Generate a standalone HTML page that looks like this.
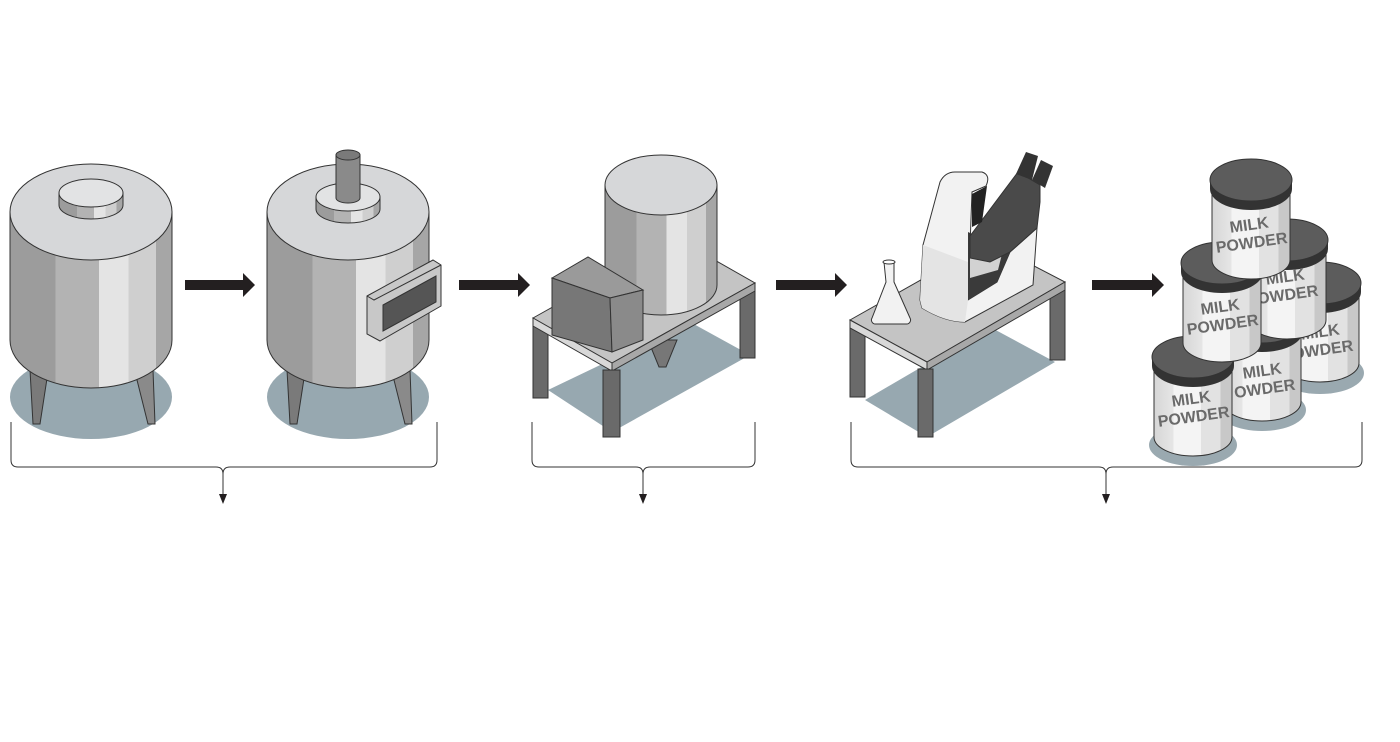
<!DOCTYPE html>
<html><head><meta charset="utf-8"><style>html,body{margin:0;padding:0;background:#fff}svg{display:block}</style></head>
<body>
<svg width="1400" height="742" viewBox="0 0 1400 742" xmlns="http://www.w3.org/2000/svg" font-family="Liberation Sans, sans-serif">
<defs>
<linearGradient id="tank" x1="0" x2="1" y1="0" y2="0">
<stop offset="0" stop-color="#9c9c9c"/><stop offset="0.28" stop-color="#9c9c9c"/>
<stop offset="0.28" stop-color="#b3b3b3"/><stop offset="0.55" stop-color="#b3b3b3"/>
<stop offset="0.55" stop-color="#e4e4e4"/><stop offset="0.73" stop-color="#e4e4e4"/>
<stop offset="0.73" stop-color="#cfcfcf"/><stop offset="0.9" stop-color="#cfcfcf"/>
<stop offset="0.9" stop-color="#a6a6a6"/><stop offset="1" stop-color="#a6a6a6"/>
</linearGradient>
<linearGradient id="can" x1="0" x2="1" y1="0" y2="0">
<stop offset="0" stop-color="#d6d6d6"/><stop offset="0.25" stop-color="#e6e6e6"/>
<stop offset="0.25" stop-color="#f4f4f4"/><stop offset="0.6" stop-color="#f4f4f4"/>
<stop offset="0.6" stop-color="#e2e2e2"/><stop offset="0.85" stop-color="#e2e2e2"/>
<stop offset="0.85" stop-color="#c8c8c8"/><stop offset="1" stop-color="#c8c8c8"/>
</linearGradient>
<g id="canshape">
<path d="M-39 8 V80 A39 19 0 0 0 39 80 V8 Z" fill="url(#can)" stroke="#333" stroke-width="1"/>
<path d="M-41 0 V9 A41 21 0 0 0 41 9 V0 Z" fill="#333"/>
<ellipse cx="0" cy="0" rx="41" ry="21" fill="#5c5c5c" stroke="#333" stroke-width="1"/>
</g>
<ellipse id="canshadow" cx="0" cy="88" rx="44" ry="21" fill="#9aa9b0"/>
</defs>

<!-- Tank 1 -->
<ellipse cx="91" cy="397" rx="81" ry="42" fill="#97a8b0"/>
<path d="M30 370 L48 372 L40 424 L33 424 Z" fill="#7a7a7a" stroke="#333" stroke-width="1"/>
<path d="M135 372 L153 370 L155 424 L148 424 Z" fill="#8a8a8a" stroke="#333" stroke-width="1"/>
<path d="M10 212 V340 A81 48 0 0 0 172 340 V212 Z" fill="url(#tank)" stroke="#333" stroke-width="1"/>
<ellipse cx="91" cy="212" rx="81" ry="48" fill="#d6d7d9" stroke="#333" stroke-width="1"/>
<path d="M59 193 V205 A32 14 0 0 0 123 205 V193 Z" fill="url(#tank)" stroke="#333" stroke-width="1"/>
<ellipse cx="91" cy="193" rx="32" ry="14" fill="#e2e3e4" stroke="#333" stroke-width="1"/>

<!-- Tank 2 -->
<ellipse cx="348" cy="397" rx="81" ry="42" fill="#97a8b0"/>
<path d="M287 370 L305 372 L297 424 L290 424 Z" fill="#7a7a7a" stroke="#333" stroke-width="1"/>
<path d="M392 372 L410 370 L412 424 L405 424 Z" fill="#8a8a8a" stroke="#333" stroke-width="1"/>
<path d="M267 212 V340 A81 48 0 0 0 429 340 V212 Z" fill="url(#tank)" stroke="#333" stroke-width="1"/>
<ellipse cx="348" cy="212" rx="81" ry="48" fill="#d6d7d9" stroke="#333" stroke-width="1"/>
<path d="M316 197 V209 A32 14 0 0 0 380 209 V197 Z" fill="url(#tank)" stroke="#333" stroke-width="1"/>
<ellipse cx="348" cy="197" rx="32" ry="14" fill="#e2e3e4" stroke="#333" stroke-width="1"/>
<path d="M336 155 V198 A12 5 0 0 0 360 198 V155 Z" fill="#8a8a8a" stroke="#333" stroke-width="1"/>
<ellipse cx="348" cy="155" rx="12" ry="5" fill="#7a7a7a" stroke="#333" stroke-width="1"/>
<path d="M367 296 L433 260 L441 265 L441 306 L380 341 L367 334 Z" fill="#c8c8c8" stroke="#333" stroke-width="1"/>
<path d="M367 296 L374 300 L441 265" fill="none" stroke="#333" stroke-width="1"/>
<path d="M383 305 L436 276 L436 302 L383 331 Z" fill="#555" stroke="#333" stroke-width="1"/>

<!-- Arrows -->
<g fill="#231f20">
<path d="M185 280 H243 V273 L255 285 L243 297 V290 H185 Z"/>
<path d="M459 280 H518 V273 L530 285 L518 297 V290 H459 Z"/>
<path d="M776 280 H835 V273 L847 285 L835 297 V290 H776 Z"/>
<path d="M1092 280 H1152 V273 L1164 285 L1152 297 V290 H1092 Z"/>
</g>

<!-- Spray dryer table -->
<polygon points="548,390 612,432 750,355 690,322" fill="#97a8b0"/>
<rect x="533" y="322" width="15" height="76" fill="#6a6a6a" stroke="#333" stroke-width="1"/>
<rect x="740" y="288" width="15" height="70" fill="#6a6a6a" stroke="#333" stroke-width="1"/>
<polygon points="648,340 677,340 666,367 659,367" fill="#777" stroke="#333" stroke-width="1"/>
<polygon points="533,318 676,238 755,283 612,363" fill="#c4c4c4" stroke="#333" stroke-width="1"/>
<polygon points="533,318 612,363 612,371 533,326" fill="#d8d8d8" stroke="#333" stroke-width="1"/>
<polygon points="612,363 755,283 755,291 612,371" fill="#a8a8a8" stroke="#333" stroke-width="1"/>
<rect x="603" y="370" width="17" height="67" fill="#6a6a6a" stroke="#333" stroke-width="1"/>
<path d="M605 185 V285 A56 30 0 0 0 717 285 V185 Z" fill="url(#tank)" stroke="#333" stroke-width="1"/>
<ellipse cx="661" cy="185" rx="56" ry="30" fill="#d6d7d9" stroke="#333" stroke-width="1"/>
<polygon points="552,278 588,257 643,290 610,298" fill="#9a9a9a" stroke="#333" stroke-width="1"/>
<polygon points="552,278 610,298 612,352 552,335" fill="#777" stroke="#333" stroke-width="1"/>
<polygon points="610,298 643,290 643,340 612,352" fill="#8a8a8a" stroke="#333" stroke-width="1"/>

<!-- Microscope table -->
<polygon points="865,400 927,437 1055,362 990,327" fill="#97a8b0"/>
<rect x="850" y="325" width="15" height="72" fill="#6a6a6a" stroke="#333" stroke-width="1"/>
<rect x="1050" y="285" width="15" height="75" fill="#6a6a6a" stroke="#333" stroke-width="1"/>
<polygon points="850,320 988,242 1065,282 927,362" fill="#c4c4c4" stroke="#333" stroke-width="1"/>
<polygon points="850,320 927,362 927,370 850,328" fill="#d8d8d8" stroke="#333" stroke-width="1"/>
<polygon points="927,362 1065,282 1065,290 927,370" fill="#a8a8a8" stroke="#333" stroke-width="1"/>
<rect x="918" y="369" width="15" height="68" fill="#6a6a6a" stroke="#333" stroke-width="1"/>
<!-- flask -->
<path d="M884 262 H894 V282 L910 318 A4 4 0 0 1 906 324 H876 A4 4 0 0 1 872 318 L886 282 Z" fill="#f2f2f2" stroke="#333" stroke-width="1"/>
<ellipse cx="889" cy="262" rx="6" ry="2" fill="#fff" stroke="#333" stroke-width="1"/>
<!-- microscope -->
<path d="M920 300 L923 245 L940 182 Q945 172 955 172 L982 172 Q991 175 986 186 L972 192 L968 300 L997 282 L1010 252 L1037 228 L1033 285 L965 322 Q945 322 922 308 Z" fill="#f2f2f2" stroke="#333" stroke-width="1"/>
<path d="M923 245 L968 262 L968 300 L965 322 Q945 322 922 308 L920 300 Z" fill="#e4e4e4" stroke="none"/>
<path d="M968 232 L968 300 L997 282 L1010 252 Z" fill="#3a3a3a"/>
<path d="M970 258 L1003 250 L998 270 L970 278 Z" fill="#d2d2d2"/>
<path d="M970 236 L1018 172 L1040 185 L1040 202 L1037 228 L1010 252 L990 262 L970 258 Z" fill="#4a4a4a" stroke="#333" stroke-width="1"/>
<path d="M972 194 L987 186 L982 222 L972 227 Z" fill="#222"/>
<path d="M1016 174 L1026 152 L1038 156 L1032 180 Z" fill="#333"/>
<path d="M1032 180 L1041 160 L1053 166 L1045 188 Z" fill="#333"/>

<!-- Cans -->
<use href="#canshadow" x="1320" y="285"/>
<use href="#canshadow" x="1262" y="322"/>
<use href="#canshadow" x="1193" y="357"/>
<use href="#canshape" x="1320" y="283"/>
<text transform="translate(1322,345) rotate(-8)" font-size="16" font-weight="bold" fill="#6a6a6a" text-anchor="middle"><tspan x="0" y="-8">MILK</tspan><tspan x="0" y="10">OWDER</tspan></text>
<use href="#canshape" x="1262" y="322"/>
<text transform="translate(1264,384) rotate(-8)" font-size="16" font-weight="bold" fill="#6a6a6a" text-anchor="middle"><tspan x="0" y="-8">MILK</tspan><tspan x="0" y="10">OWDER</tspan></text>
<use href="#canshape" x="1287" y="240"/>
<text transform="translate(1287,290) rotate(-8)" font-size="16" font-weight="bold" fill="#6a6a6a" text-anchor="middle"><tspan x="0" y="-8">MILK</tspan><tspan x="0" y="10">OWDER</tspan></text>
<use href="#canshape" x="1193" y="357"/>
<text transform="translate(1193,412) rotate(-8)" font-size="16" font-weight="bold" fill="#6a6a6a" text-anchor="middle"><tspan x="0" y="-8">MILK</tspan><tspan x="0" y="10">POWDER</tspan></text>
<use href="#canshape" x="1222" y="263"/>
<text transform="translate(1222,320) rotate(-8)" font-size="16" font-weight="bold" fill="#6a6a6a" text-anchor="middle"><tspan x="0" y="-8">MILK</tspan><tspan x="0" y="10">POWDER</tspan></text>
<use href="#canshape" x="1251" y="180"/>
<text transform="translate(1251,238) rotate(-8)" font-size="16" font-weight="bold" fill="#6a6a6a" text-anchor="middle"><tspan x="0" y="-8">MILK</tspan><tspan x="0" y="10">POWDER</tspan></text>

<!-- Brackets -->
<g fill="none" stroke="#333" stroke-width="1">
<path d="M11 422 V460 Q11 467 18 467 H216 Q223 467 223 474 V495"/>
<path d="M437 422 V460 Q437 467 430 467 H230 Q223 467 223 474"/>
<path d="M532 422 V460 Q532 467 539 467 H636 Q643 467 643 474 V495"/>
<path d="M755 422 V460 Q755 467 748 467 H650 Q643 467 643 474"/>
<path d="M851 422 V460 Q851 467 858 467 H1099 Q1106 467 1106 474 V495"/>
<path d="M1362 422 V460 Q1362 467 1355 467 H1113 Q1106 467 1106 474"/>
</g>
<g fill="#231f20">
<path d="M219 494 L227 494 L223 504 Z"/>
<path d="M639 494 L647 494 L643 504 Z"/>
<path d="M1102 494 L1110 494 L1106 504 Z"/>
</g>
</svg>
</body></html>
